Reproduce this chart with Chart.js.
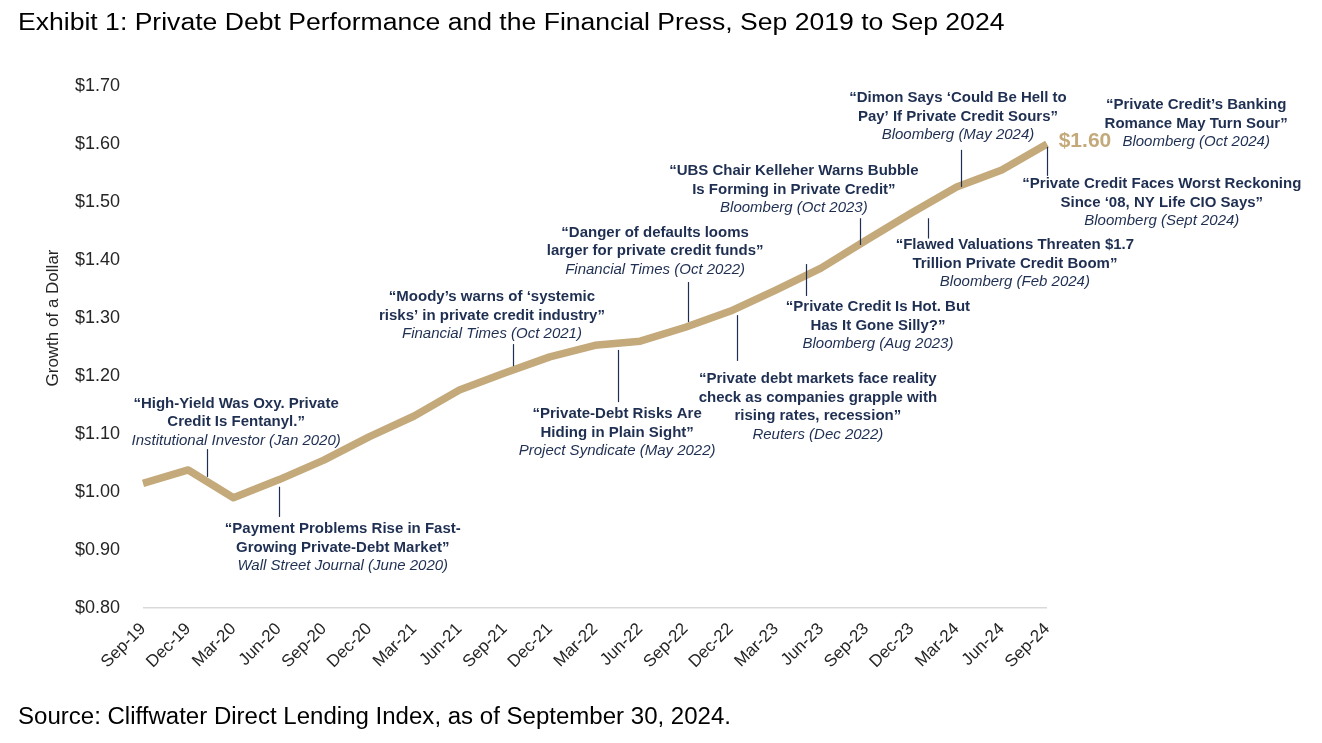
<!DOCTYPE html>
<html>
<head>
<meta charset="utf-8">
<script src="https://cdn.jsdelivr.net/npm/chart.js@4"></script>
<style>
  html, body { margin: 0; padding: 0; background: #ffffff; }
  body { width: 1322px; height: 743px; position: relative; overflow: hidden; font-family: "Liberation Sans", Arial, sans-serif; }
  #title { position: absolute; left: 18px; top: 9px; font-size: 23px; color: #000; white-space: nowrap; transform: scaleX(1.155); transform-origin: 0 0; }
  #source { position: absolute; left: 18px; top: 703px; font-size: 23px; color: #000; white-space: nowrap; transform: scaleX(1.045); transform-origin: 0 0; }
  #wrap { position: absolute; left: 0; top: 0; width: 1322px; height: 743px; }
</style>
</head>
<body>
<div id="wrap"><canvas id="c" width="1322" height="743"></canvas></div>
<div id="title">Exhibit 1: Private Debt Performance and the Financial Press, Sep 2019 to Sep 2024</div>
<div id="source">Source: Cliffwater Direct Lending Index, as of September 30, 2024.</div>
<script>
// ---- data ----
const categories = ['Sep-19','Dec-19','Mar-20','Jun-20','Sep-20','Dec-20','Mar-21','Jun-21','Sep-21','Dec-21',
  'Mar-22','Jun-22','Sep-22','Dec-22','Mar-23','Jun-23','Sep-23','Dec-23','Mar-24','Jun-24','Sep-24'];
const growthOfDollar = [1.015, 1.038, 0.990, 1.021, 1.055, 1.095, 1.131, 1.176, 1.205, 1.233,
  1.253, 1.260, 1.284, 1.312, 1.348, 1.386, 1.434, 1.481, 1.526, 1.555, 1.600];
const yTickValues = [0.8, 0.9, 1.0, 1.1, 1.2, 1.3, 1.4, 1.5, 1.6, 1.7];
const yAxisTitle = 'Growth of a Dollar';
const endLabel = '$1.60';

// headline texts (quote lines, then source)
const headlines = [
  [['“High-Yield Was Oxy. Private', 'Credit Is Fentanyl.”'], 'Institutional Investor (Jan 2020)'],
  [['“Payment Problems Rise in Fast-', 'Growing Private-Debt Market”'], 'Wall Street Journal (June 2020)'],
  [['“Moody’s warns of ‘systemic', 'risks’ in private credit industry”'], 'Financial Times (Oct 2021)'],
  [['“Private-Debt Risks Are', 'Hiding in Plain Sight”'], 'Project Syndicate (May 2022)'],
  [['“Danger of defaults looms', 'larger for private credit funds”'], 'Financial Times (Oct 2022)'],
  [['“Private debt markets face reality', 'check as companies grapple with', 'rising rates, recession”'], 'Reuters (Dec 2022)'],
  [['“Private Credit Is Hot. But', 'Has It Gone Silly?”'], 'Bloomberg (Aug 2023)'],
  [['“UBS Chair Kelleher Warns Bubble', 'Is Forming in Private Credit”'], 'Bloomberg (Oct 2023)'],
  [['“Flawed Valuations Threaten $1.7', 'Trillion Private Credit Boom”'], 'Bloomberg (Feb 2024)'],
  [['“Dimon Says ‘Could Be Hell to', 'Pay’ If Private Credit Sours”'], 'Bloomberg (May 2024)'],
  [['“Private Credit’s Banking', 'Romance May Turn Sour”'], 'Bloomberg (Oct 2024)'],
  [['“Private Credit Faces Worst Reckoning', 'Since ‘08, NY Life CIO Says”'], 'Bloomberg (Sept 2024)']
];

// ---- layout of headlines in data coordinates (category index, value) ----
// [textCenterIndex, firstLineValue, connectorIndex, connectorFromValue, connectorToValue]
const headlineLayout = [
  [2.06, 1.152, 1.42, 1.074, 1.026],
  [4.42, 0.936, 3.01, 1.009, 0.957],
  [7.72, 1.336, 8.19, 1.255, 1.217],
  [10.49, 1.134, 10.51, 1.245, 1.155],
  [11.33, 1.447, 12.06, 1.362, 1.293],
  [14.93, 1.195, 13.14, 1.305, 1.226],
  [16.26, 1.319, 14.67, 1.393, 1.338],
  [14.40, 1.553, 15.86, 1.472, 1.426],
  [19.29, 1.426, 17.37, 1.472, 1.437],
  [18.03, 1.679, 18.10, 1.590, 1.526],
  [23.30, 1.667, null, null, null],
  [22.54, 1.531, 20.00, 1.595, 1.545]
];
const endLabelPos = [20.84, 1.605];

const lineColor = '#C4A97B';
const navy = '#1F2F52';
const axisText = '#262626';
const FONT = '"Liberation Sans", Arial, sans-serif';

const annotationPlugin = {
  id: 'headlines',
  afterDatasetsDraw(chart) {
    const ctx = chart.ctx;
    const xs = chart.scales.x, ys = chart.scales.y;
    const px = i => xs.getPixelForValue(0) + (xs.getPixelForValue(1) - xs.getPixelForValue(0)) * i;
    ctx.save();
    // connectors
    ctx.strokeStyle = navy;
    ctx.lineWidth = 1.2;
    headlineLayout.forEach(l => {
      if (l[2] === null) return;
      const x = Math.round(px(l[2])) + 0.5;
      ctx.beginPath();
      ctx.moveTo(x, ys.getPixelForValue(l[3]));
      ctx.lineTo(x, ys.getPixelForValue(l[4]));
      ctx.stroke();
    });
    // texts
    ctx.textAlign = 'center';
    ctx.textBaseline = 'middle';
    ctx.fillStyle = navy;
    const lh = 18.5;
    headlines.forEach((h, k) => {
      const l = headlineLayout[k];
      const cx = px(l[0]);
      let y = ys.getPixelForValue(l[1]);
      ctx.font = 'bold 15px ' + FONT;
      h[0].forEach(t => { ctx.fillText(t, cx, y); y += lh; });
      ctx.font = 'italic 15px ' + FONT;
      ctx.fillText(h[1], cx, y);
    });
    // end value label
    ctx.font = 'bold 21px ' + FONT;
    ctx.fillStyle = lineColor;
    ctx.fillText(endLabel, px(endLabelPos[0]), ys.getPixelForValue(endLabelPos[1]));
    // y axis title
    ctx.translate(53, 318);
    ctx.rotate(-Math.PI / 2);
    ctx.font = '17px ' + FONT;
    ctx.fillStyle = axisText;
    ctx.fillText(yAxisTitle, 0, 0);
    ctx.restore();
  }
};

new Chart(document.getElementById('c'), {
  type: 'line',
  data: {
    labels: categories,
    datasets: [{
      data: growthOfDollar,
      borderColor: lineColor,
      borderWidth: 7.5,
      pointRadius: 0,
      tension: 0,
      borderJoinStyle: 'round',
      clip: false
    }]
  },
  options: {
    responsive: false,
    animation: false,
    devicePixelRatio: 1,
    layout: { padding: { left: 0, top: 86, right: 275, bottom: 0 } },
    plugins: { legend: { display: false }, tooltip: { enabled: false }, title: { display: false } },
    scales: {
      x: {
        offset: false,
        grid: { display: false, drawTicks: false },
        border: { display: false },
        ticks: {
          autoSkip: false, maxRotation: 45, minRotation: 45, padding: 11,
          color: axisText, font: { family: FONT, size: 17 }
        },
        afterFit(s) { s.height = 135; }
      },
      y: {
        min: 0.8, max: 1.7,
        afterBuildTicks(s) { s.ticks = yTickValues.map(v => ({ value: v })); },
        grid: {
          drawTicks: false,
          color: c => (c.tick && Math.abs(c.tick.value - 0.8) < 1e-6) ? '#D9D9D9' : 'rgba(0,0,0,0)',
          lineWidth: 1.5
        },
        border: { display: false },
        ticks: {
          padding: 23, color: axisText, font: { family: FONT, size: 18 },
          callback: v => '$' + Number(v).toFixed(2)
        },
        afterFit(s) { s.width = 143; }
      }
    }
  },
  plugins: [annotationPlugin]
});
</script>
</body>
</html>
